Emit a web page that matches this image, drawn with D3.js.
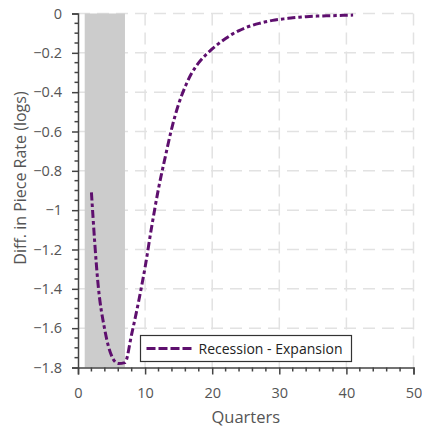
<!DOCTYPE html>
<html>
<head>
<meta charset="utf-8">
<script src="https://cdn.jsdelivr.net/npm/d3@7"></script>
<style>
  body { margin: 0; background: #fff; font-family: "Open Sans", sans-serif; }
</style>
</head>
<body>
<main></main>
<script>
const quarters = [2,3,4,5,6,7,8,9,10,11,12,13,14,15,16,17,18,19,20,21,22,23,24,25,26,27,28,29,30,31,32,33,34,35,36,37,38,39,40,41]
const pieceRateDiff = [-0.91,-1.38,-1.61,-1.74,-1.78,-1.775,-1.63,-1.47,-1.29,-1.08,-0.89,-0.73,-0.58,-0.46,-0.37,-0.30,-0.25,-0.212,-0.18,-0.152,-0.127,-0.105,-0.087,-0.072,-0.06,-0.05,-0.042,-0.035,-0.03,-0.026,-0.022,-0.019,-0.016,-0.014,-0.013,-0.012,-0.011,-0.01,-0.009,-0.008]
const recession = [1, 7]
const xTicks = [0,10,20,30,40,50]
const yTicks = [0,-0.2,-0.4,-0.6,-0.8,-1,-1.2,-1.4,-1.6,-1.8]
const seriesName = "Recession - Expansion"

const w=422, h=431
const m={left:78, right:8.5, top:13.5, bottom:63.5}
const svg=d3.select("main").append("svg")
  .attr("width",w).attr("height",h)
  .style("display","block")

const x=d3.scaleLinear().domain([0,50]).range([m.left,w-m.right])
const y=d3.scaleLinear().domain([-1.8,0]).range([h-m.bottom,m.top])

// grid
const grid=svg.append("g").attr("stroke","#e2e2e2").attr("stroke-width",1.5).attr("stroke-dasharray","12,7")
grid.selectAll(".gx").data(xTicks.slice(1)).enter().append("line")
  .attr("x1",d=>x(d)).attr("x2",d=>x(d)).attr("y1",y(-1.8)).attr("y2",y(0))
grid.selectAll(".gy").data(yTicks.slice(0,-1)).enter().append("line")
  .attr("y1",d=>y(d)).attr("y2",d=>y(d)).attr("x1",x(0)).attr("x2",x(50))

// recession shading
svg.append("rect")
  .attr("x",x(recession[0])).attr("width",x(recession[1])-x(recession[0]))
  .attr("y",y(0)).attr("height",y(-1.8)-y(0))
  .attr("fill","#cccccc")

// axes
const xAxis=d3.axisBottom(x).tickValues(xTicks).tickFormat(d3.format("d")).tickSize(7).tickPadding(13)
const yAxis=d3.axisLeft(y).tickValues(yTicks).tickFormat(d=>d===0?"0":d3.format("")(d)).tickSize(6).tickPadding(10)
const gx=svg.append("g").attr("transform","translate(0,"+y(-1.8)+")").call(xAxis)
const gy=svg.append("g").attr("transform","translate("+x(0)+",0)").call(yAxis)
// minor ticks
gx.selectAll(".minor").data(d3.range(0,51,2).filter(d=>d%10!==0)).enter().append("line")
  .attr("x1",d=>x(d)).attr("x2",d=>x(d)).attr("y1",0).attr("y2",4)
gy.selectAll(".minor").data(d3.range(0,37).map(i=>-i*0.05).filter((d,i)=>i%4!==0)).enter().append("line")
  .attr("y1",d=>y(d)).attr("y2",d=>y(d)).attr("x1",0).attr("x2",-3.5)
;[gx,gy].forEach(g=>{
  g.select(".domain").attr("stroke","#444").attr("stroke-width",1.5)
  g.selectAll("line").attr("stroke","#444").attr("stroke-width",1.5)
  g.selectAll("text").attr("fill","#555").style("font-size","14.5px").style("font-family","Open Sans")
})

// line
const line=d3.line().x((d,i)=>x(quarters[i])).y(d=>y(d)).curve(d3.curveMonotoneX)
svg.append("path")
  .datum(pieceRateDiff)
  .attr("d",line)
  .attr("fill","none")
  .attr("stroke","#5e0f6e")
  .attr("stroke-width",3)
  .attr("stroke-dasharray","8,3,3.5,3")

// labels
svg.append("text")
  .attr("x",(x(0)+x(50))/2).attr("y",423)
  .attr("text-anchor","middle")
  .attr("fill","#555").style("font-size","16.5px")
  .text("Quarters")
svg.append("text")
  .attr("transform","translate(26,178) rotate(-90)")
  .attr("text-anchor","middle")
  .attr("fill","#555").style("font-size","16px")
  .text("Diff. in Piece Rate (logs)")

// legend
const lg=svg.append("g").attr("transform","translate(140.5,335.5)")
lg.append("rect").attr("width",211).attr("height",26).attr("fill","#fff").attr("stroke","#333").attr("stroke-width",1.2)
lg.append("line").attr("x1",6).attr("x2",52).attr("y1",13).attr("y2",13)
  .attr("stroke","#5e0f6e").attr("stroke-width",3).attr("stroke-dasharray","9,3")
lg.append("text").attr("x",58).attr("y",18).attr("fill","#222").style("font-size","14px").text(seriesName)
</script>
</body>
</html>
